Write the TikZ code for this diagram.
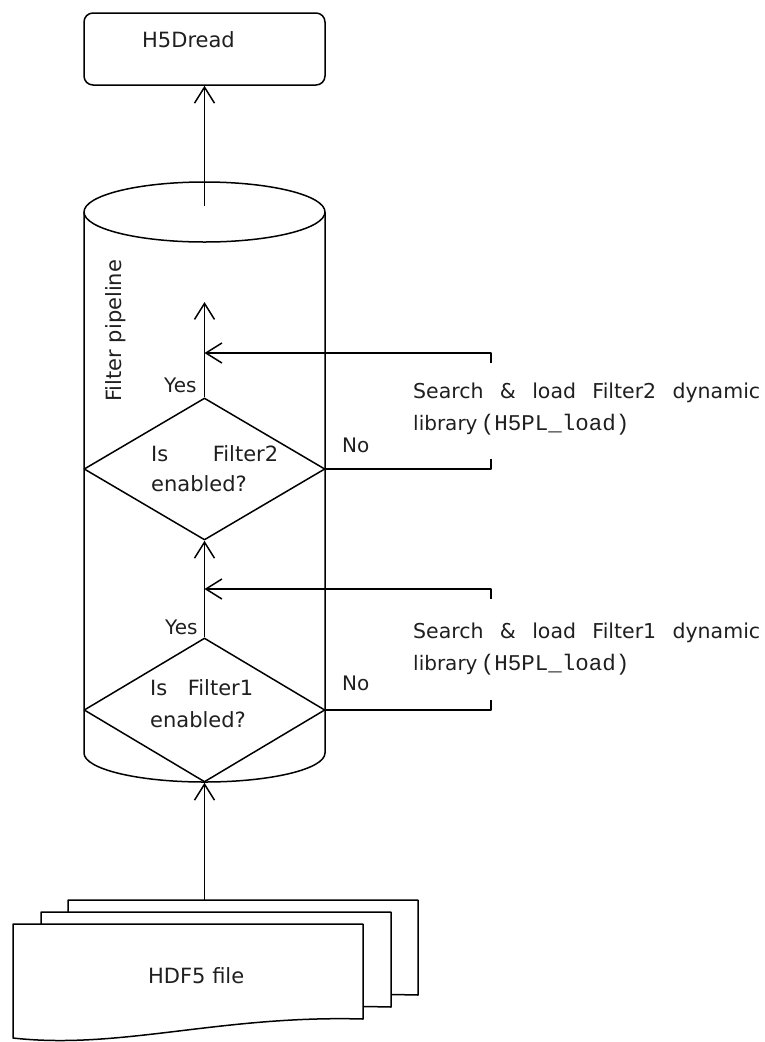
\documentclass[tikz,border=0pt]{standalone}
\usepackage{fontspec}
\setmainfont{DejaVu Sans}
\newfontfamily\monofont{Liberation Mono}
\usetikzlibrary{shapes.geometric,arrows.meta,calc}

\tikzset{
  wire/.style={line width=1.5pt, line join=round},
  arr/.style={wire, -{Straight Barb[length=16pt,width=20pt]}},
  lbl/.style={inner sep=0pt, anchor=base west, text=black!88},
  txt/.style={lbl, font=\fontsize{21pt}{30pt}\selectfont},
  yesno/.style={lbl, font=\fontsize{20pt}{24pt}\selectfont},
  decision/.style={diamond, draw, wire, minimum width=241pt, inner sep=0pt},
}

\begin{document}
\begin{tikzpicture}[x=1pt,y=-1pt]
  \fill[white] (0,0) rectangle (764,1042);
  \useasboundingbox (0,0) rectangle (764,1042);

  % stack of input files
  \foreach \dx/\dy in {55/-24, 28/-12, 0/0} {
    \draw[wire, fill=white, shift={(\dx,\dy)}]
      (13,924) -- (363,924) -- (363,1019)
      .. controls (220,1015) and (120,1050) .. (13,1038) -- cycle;
  }
  \coordinate (filetop) at (204.5,900);
  \node[txt] (filetxt) at (148,983) {HDF5 file};

  % filter pipeline cylinder
  \draw[wire] (204.5,212) ellipse [x radius=120.5pt, y radius=30pt];
  \draw[wire] (84,212) -- (84,753)
    arc[start angle=180, end angle=360, x radius=120.5pt, y radius=29pt]
    -- (325,212);
  \coordinate (pipeout) at (204.5,206);
  \coordinate (pipetop) at (204.5,302);
  \node[txt, rotate=90] (pipelbl) at (121,402) {Filter pipeline};

  % H5Dread call
  \node[draw, wire, rounded corners=9pt, minimum width=241pt,
        minimum height=72pt, inner sep=0pt] (read) at (204.5,49) {};
  \node[txt] (readtxt) at (142,47) {H5Dread};

  % decisions
  \node[decision, minimum height=142pt] (q2) at (204.5,469) {};
  \node[decision, minimum height=144pt] (q1) at (204.5,710) {};
  \node[txt] (q2txt) at (151,461)
    {\vtop{\baselineskip=30pt\hbox{\makebox[127pt][s]{Is Filter2}}\hbox{enabled?}}};
  \node[txt] (q1txt) at (150,695)
    {\vtop{\baselineskip=32pt\hbox{\makebox[103pt][s]{Is Filter1}}\hbox{enabled?}}};

  \node[yesno] (yes2) at (164,392) {Yes};
  \node[yesno] (yes1) at (165,634) {Yes};
  \node[yesno] (no2) at (342,452) {No};
  \node[yesno] (no1) at (342,690) {No};

  % plugin loading notes
  \coordinate (b2t) at (491,353);
  \coordinate (b1t) at (491,589);
  \node[lbl] (load2) at (413,398)
    {\vtop{\baselineskip=32pt
      \hbox{\fontsize{20.5pt}{25pt}\selectfont\makebox[347pt][s]{Search \& load Filter2 dynamic}}
      \hbox{\fontsize{20pt}{24pt}\selectfont library\,\monofont\fontsize{22.5pt}{26pt}\selectfont(H5PL\_load)}}};
  \node[lbl] (load1) at (413,638)
    {\vtop{\baselineskip=32pt
      \hbox{\fontsize{20.5pt}{25pt}\selectfont\makebox[347pt][s]{Search \& load Filter1 dynamic}}
      \hbox{\fontsize{20pt}{24pt}\selectfont library\,\monofont\fontsize{22.5pt}{26pt}\selectfont(H5PL\_load)}}};

  % connectors
  \draw[arr] (filetop) -- (q1.south);
  \draw[arr] (q1.north) -- (q2.south);
  \draw[arr] (q2.north) -- (pipetop);
  \draw[arr] (pipeout) -- (read.south);

  \draw[wire] (q2.east) -- (q2.east -| b2t) -- ++(0,-10);
  \draw[arr] ($(b2t)+(0,10)$) -- (b2t) -- (b2t -| q2.north);
  \draw[wire] (q1.east) -- (q1.east -| b1t) -- ++(0,-10);
  \draw[arr] ($(b1t)+(0,10)$) -- (b1t) -- (b1t -| q1.north);
\end{tikzpicture}
\end{document}
